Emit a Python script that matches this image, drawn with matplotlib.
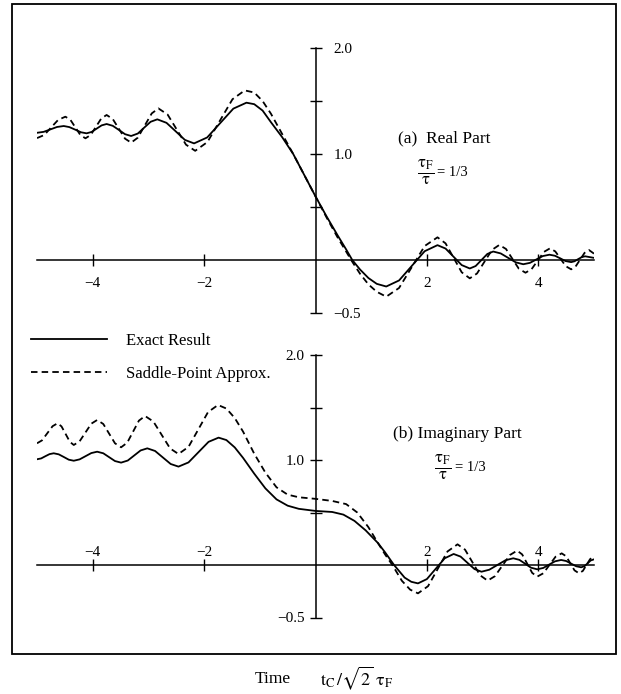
import matplotlib
matplotlib.use('Agg')
import matplotlib.pyplot as plt
from matplotlib.patches import Rectangle

plt.rcParams['font.family'] = ['Liberation Serif', 'DejaVu Serif']
plt.rcParams['mathtext.fontset'] = 'stix'

# (a) real part
re_x_exact = [-5.0, -4.88, -4.76, -4.64, -4.52, -4.42, -4.315, -4.21, -4.11, -4.02, -3.93, -3.84,
              -3.75, -3.64, -3.53, -3.42, -3.31, -3.19, -3.075, -2.96, -2.84, -2.675, -2.51,
              -2.345, -2.18, -1.945, -1.71, -1.475, -1.24, -1.1, -0.95, -0.8, -0.6, -0.4, -0.2,
              0.0, 0.2, 0.4, 0.55, 0.66, 0.8, 0.95, 1.1, 1.27, 1.50, 1.73, 1.96, 2.19, 2.335,
              2.48, 2.625, 2.77, 2.875, 2.98, 3.085, 3.19, 3.325, 3.46, 3.595, 3.73, 3.85, 3.965,
              4.08, 4.20, 4.30, 4.395, 4.49, 4.59, 4.65, 4.715, 4.78, 4.84, 5.0]
re_y_exact = [1.20, 1.209, 1.232, 1.255, 1.264, 1.254, 1.230, 1.205, 1.195, 1.208, 1.239, 1.270,
              1.283, 1.266, 1.227, 1.187, 1.17, 1.193, 1.249, 1.304, 1.327, 1.294, 1.214,
              1.133, 1.10, 1.156, 1.292, 1.428, 1.484, 1.47, 1.41, 1.30, 1.16, 1.00, 0.80,
              0.60, 0.41, 0.23, 0.10, 0.0, -0.09, -0.17, -0.225, -0.25, -0.193, -0.055, 0.083,
              0.14, 0.108, 0.03, -0.048, -0.08, -0.057, 0.0, 0.057, 0.08, 0.062, 0.02, -0.022,
              -0.04, -0.027, 0.005, 0.037, 0.05, 0.04, 0.015, -0.01, -0.02, -0.012, 0.008, 0.027,
              0.035, 0.02]
re_x_saddle = [-5.0, -4.87, -4.745, -4.62, -4.49, -4.40, -4.31, -4.22, -4.13, -4.035, -3.94, -3.845,
               -3.75, -3.64, -3.53, -3.42, -3.31, -3.19, -3.065, -2.94, -2.82, -2.655, -2.49,
               -2.325, -2.16, -1.94, -1.715, -1.49, -1.27, -1.1, -0.95, -0.8, -0.6, -0.4, -0.2,
               0.0, 0.2, 0.4, 0.55, 0.64, 0.8, 0.95, 1.1, 1.27, 1.50, 1.73, 1.96, 2.19, 2.335,
               2.48, 2.625, 2.77, 2.90, 3.035, 3.17, 3.30, 3.42, 3.535, 3.65, 3.77, 3.88, 3.99,
               4.10, 4.21, 4.305, 4.40, 4.495, 4.59, 4.67, 4.75, 4.83, 4.91, 5.0]
re_y_saddle = [1.15, 1.179, 1.251, 1.322, 1.352, 1.322, 1.25, 1.178, 1.148, 1.18, 1.258, 1.336,
               1.368, 1.33, 1.238, 1.145, 1.107, 1.154, 1.269, 1.383, 1.43, 1.372, 1.23,
               1.088, 1.03, 1.113, 1.315, 1.517, 1.60, 1.58, 1.50, 1.38, 1.19, 1.00, 0.80,
               0.60, 0.40, 0.21, 0.08, 0.0, -0.13, -0.23, -0.30, -0.346, -0.264, -0.066, 0.132,
               0.214, 0.157, 0.02, -0.116, -0.173, -0.127, -0.015, 0.096, 0.142, 0.104, 0.011,
               -0.082, -0.12, -0.086, -0.005, 0.076, 0.11, 0.081, 0.011, -0.059, -0.088, -0.061,
               0.003, 0.067, 0.094, 0.06]

# (b) imaginary part
im_x_exact = [-5.0, -4.925, -4.85, -4.775, -4.70, -4.61, -4.52, -4.43, -4.34, -4.235, -4.13,
              -4.025, -3.92, -3.81, -3.705, -3.60, -3.49, -3.37, -3.255, -3.14, -3.02, -2.88,
              -2.74, -2.60, -2.46, -2.28, -2.10, -1.92, -1.74, -1.6, -1.45, -1.3, -1.1, -0.9,
              -0.7, -0.5, -0.3, 0.0, 0.3, 0.5, 0.7, 0.9, 1.12, 1.25, 1.41, 1.6, 1.72, 1.84,
              2.0, 2.16, 2.32, 2.48, 2.605, 2.73, 2.855, 2.98, 3.12, 3.265, 3.41, 3.55, 3.66,
              3.765, 3.87, 3.98, 4.09, 4.195, 4.30, 4.41, 4.50, 4.59, 4.68, 4.77, 4.83, 4.885,
              4.94, 5.0]
im_y_exact = [1.007, 1.015, 1.036, 1.056, 1.064, 1.054, 1.029, 1.003, 0.993, 1.006, 1.036,
              1.066, 1.079, 1.064, 1.027, 0.99, 0.975, 0.995, 1.043, 1.091, 1.111, 1.086,
              1.024, 0.962, 0.937, 0.977, 1.075, 1.173, 1.213, 1.19, 1.12, 1.02, 0.87, 0.73,
              0.625, 0.565, 0.535, 0.515, 0.505, 0.48, 0.42, 0.33, 0.21, 0.12, 0.0, -0.12,
              -0.16, -0.175, -0.134, -0.035, 0.064, 0.105, 0.08, 0.02, -0.039, -0.064, -0.045,
              0.0, 0.045, 0.064, 0.049, 0.012, -0.026, -0.041, -0.028, 0.004, 0.035, 0.048,
              0.038, 0.013, -0.012, -0.022, -0.011, 0.016, 0.043, 0.054]
im_x_saddle = [-5.0, -4.91, -4.815, -4.72, -4.63, -4.56, -4.485, -4.41, -4.34, -4.235, -4.13,
               -4.025, -3.92, -3.81, -3.705, -3.60, -3.49, -3.38, -3.275, -3.17, -3.06, -2.91,
               -2.76, -2.61, -2.46, -2.28, -2.105, -1.93, -1.75, -1.6, -1.45, -1.3, -1.1, -0.9,
               -0.7, -0.5, -0.3, 0.0, 0.3, 0.55, 0.75, 0.95, 1.12, 1.25, 1.38, 1.55, 1.7, 1.84,
               2.02, 2.195, 2.37, 2.55, 2.685, 2.82, 2.955, 3.09, 3.22, 3.355, 3.49, 3.62, 3.71,
               3.80, 3.89, 3.98, 4.09, 4.20, 4.31, 4.42, 4.50, 4.575, 4.65, 4.73, 4.80, 4.865,
               4.93, 5.0]
im_y_saddle = [1.159, 1.187, 1.255, 1.322, 1.35, 1.32, 1.247, 1.173, 1.143, 1.178, 1.262,
               1.346, 1.381, 1.343, 1.251, 1.159, 1.121, 1.165, 1.27, 1.375, 1.419, 1.366,
               1.238, 1.11, 1.057, 1.125, 1.29, 1.456, 1.524, 1.49, 1.40, 1.27, 1.06, 0.88,
               0.74, 0.67, 0.645, 0.63, 0.61, 0.58, 0.50, 0.36, 0.21, 0.10, 0.0, -0.15, -0.235,
               -0.27, -0.202, -0.037, 0.129, 0.197, 0.146, 0.024, -0.098, -0.149, -0.107,
               -0.006, 0.095, 0.137, 0.101, 0.013, -0.075, -0.111, -0.079, 0.0, 0.079, 0.111,
               0.083, 0.016, -0.051, -0.079, -0.056, 0.0, 0.056, 0.079]

xticks = [-4, -2, 2, 4]
yticks = [-0.5, 0.5, 1.0, 1.5, 2.0]
ylabels = ['\u22120.5', '', '1.0', '', '2.0']

fig = plt.figure(figsize=(6.21, 6.94), dpi=100)
W, H = 621, 694

# outer frame of the figure
fig.patches.append(Rectangle((12 / W, 1 - 654 / H), 604 / W, 650 / H, transform=fig.transFigure,
                             fill=False, lw=1.3, ec='black'))

ax1 = fig.add_axes([37 / W, 1 - 313 / H, 557 / W, 265 / H])
ax2 = fig.add_axes([37 / W, 1 - 617.5 / H, 557 / W, 262.5 / H])

lw = 1.3
for ax, xe, ye, xs, ys in [(ax1, re_x_exact, re_y_exact, re_x_saddle, re_y_saddle),
                           (ax2, im_x_exact, im_y_exact, im_x_saddle, im_y_saddle)]:
    ax.plot(xe, ye, color='black', lw=lw, label='Exact Result')
    ax.plot(xs, ys, color='black', lw=lw, dashes=(3.6, 2.3), label='Saddle-Point Approx.')
    ax.set_xlim(-5, 5)
    ax.set_ylim(-0.5, 2.0)
    ax.patch.set_visible(False)
    for s in ax.spines.values():
        s.set_linewidth(1.1)

# top panel: y labels right of the axis, x labels below
ax1.spines['left'].set_visible(False)
ax1.spines['top'].set_visible(False)
ax1.spines['right'].set_position(('data', 0))
ax1.spines['bottom'].set_position(('data', 0))
ax1.yaxis.tick_right()
ax1.xaxis.tick_bottom()

# bottom panel: y labels left of the axis, x labels above
ax2.spines['right'].set_visible(False)
ax2.spines['bottom'].set_visible(False)
ax2.spines['left'].set_position(('data', 0))
ax2.spines['top'].set_position(('data', 0))
ax2.yaxis.tick_left()
ax2.xaxis.tick_top()

for ax in (ax1, ax2):
    ax.set_xticks(xticks)
    ax.set_xticklabels(['\u2212%d' % -t if t < 0 else '%d' % t for t in xticks])
    ax.set_yticks(yticks)
    ax.set_yticklabels(ylabels)
    ax.tick_params(direction='inout', length=8, width=1.0, labelsize=11, pad=4)
ax1.tick_params(axis='x', pad=8)
ax1.tick_params(axis='y', pad=9)
ax2.tick_params(axis='x', pad=0)

frac = r'$\frac{\mathrm{\tau_F}}{\mathrm{\tau}}$'
ax1.text(1.49, 1.15, '(a)  Real Part', fontsize=12.5, va='center', ha='left')
ax1.text(1.83, 0.83, frac, fontsize=17, va='center', ha='left')
ax1.text(2.18, 0.83, '= 1/3', fontsize=10.5, va='center', ha='left')
ax2.text(1.40, 1.25, '(b) Imaginary Part', fontsize=12.5, va='center', ha='left')
ax2.text(2.12, 0.93, frac, fontsize=17, va='center', ha='left')
ax2.text(2.50, 0.93, '= 1/3', fontsize=10.5, va='center', ha='left')

handles, labels = ax2.get_legend_handles_labels()
fig.legend(handles, labels, loc='upper left', bbox_to_anchor=(24 / W, 1 - 326 / H),
           frameon=False, fontsize=12, handlelength=4.6, handletextpad=1.1,
           labelspacing=1.05, borderaxespad=0)

fig.text(255 / W, 1 - 679 / H, 'Time', fontsize=12.5, va='center', ha='left')
fig.text(320 / W, 1 - 678 / H, r'$\mathrm{t_C}\,/\sqrt{2}\;\mathrm{\tau_F}$', fontsize=13,
         va='center', ha='left')

fig.savefig('out.png', dpi=100, facecolor='white')
